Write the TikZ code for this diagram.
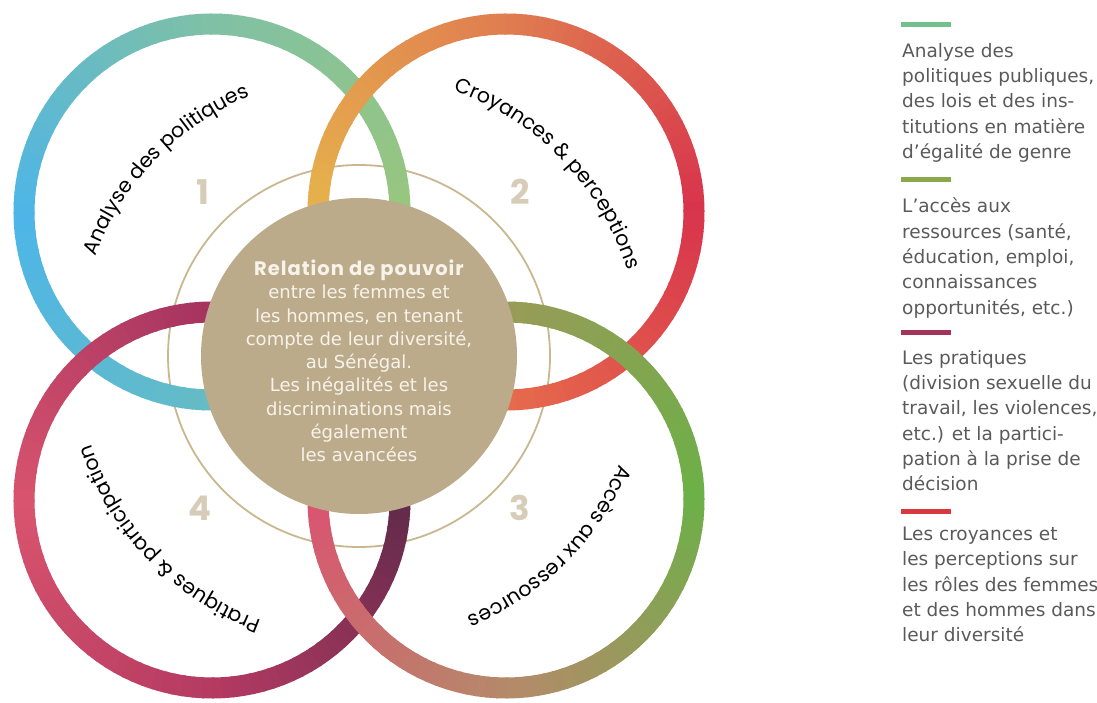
\documentclass[tikz,border=0pt]{standalone}
\usepackage{fontspec}
\setmainfont{DejaVu Sans}
\newfontfamily\popfont{Poppins}
\newfontfamily\titlefont[LetterSpace=5]{Poppins}
\definecolor{oneA}{HTML}{98C67E}\definecolor{oneB}{HTML}{7FC0A6}
\definecolor{oneC}{HTML}{4DB5E8}\definecolor{oneD}{HTML}{66BCC4}
\definecolor{twoA}{HTML}{D8344C}\definecolor{twoB}{HTML}{E07E50}
\definecolor{twoC}{HTML}{E6B44C}\definecolor{twoD}{HTML}{E66A4C}
\definecolor{thrA}{HTML}{6CB048}\definecolor{thrB}{HTML}{9A9A58}
\definecolor{thrC}{HTML}{DA5470}\definecolor{thrD}{HTML}{B58A6A}
\definecolor{fouA}{HTML}{5E2A4A}\definecolor{fouB}{HTML}{A53460}
\definecolor{fouC}{HTML}{D9546E}\definecolor{fouD}{HTML}{B43A62}
\definecolor{disc}{HTML}{BCAB8B}
\definecolor{ringline}{HTML}{C9B88F}
\definecolor{numtan}{HTML}{D6CCB8}
\definecolor{cream}{HTML}{F7F3EA}
\definecolor{legendgrey}{HTML}{5A5A5A}
\definecolor{barA}{HTML}{72C08C}\definecolor{barB}{HTML}{8AA84C}
\definecolor{barC}{HTML}{A23458}\definecolor{barD}{HTML}{D8383E}
\newcommand\lblfont{\popfont\fontsize{20.5}{22}\selectfont}
\newdimen\totw
\newdimen\chw
\newcommand\arclbl[3]{% mid angle, radius, letters
	\global\totw=0pt
	\foreach \ch in {#3}{\pgfinterruptpicture\setbox0=\hbox{\lblfont\ch}\global\advance\totw by\wd0\endpgfinterruptpicture}
	\pgfmathsetmacro\astart{#1+0.5*\totw/(#2)*180/pi}
	\xdef\acur{\astart}
	\foreach \ch in {#3}{%
		\pgfinterruptpicture\setbox0=\hbox{\lblfont\ch}\global\chw=\wd0\endpgfinterruptpicture
		\pgfmathsetmacro\amid{\acur-0.5*\chw/(#2)*180/pi}
		\path (c) ++(\amid:#2) node[rotate=\amid-90,anchor=base,inner sep=0pt,font=\lblfont] {\ch};
		\pgfmathsetmacro\anext{\acur-\chw/(#2)*180/pi}
		\xdef\acur{\anext}
	}}
\tikzset{
	legtext/.style={anchor=north west,inner sep=0pt,align=left,text=legendgrey,font=\fontsize{18.5}{25.3}\selectfont},
	legbar/.style={line width=5},
	numlbl/.style={text=numtan,font=\popfont\bfseries\fontsize{34}{34}\selectfont}
}
\begin{document}
\begin{tikzpicture}[x=1pt,y=1pt,line cap=butt]
			\useasboundingbox (0,0) rectangle (1097,702);
			\def\rr{188}
			\def\lr{282}
			\def\ring#1#2#3#4#5{%
				\foreach \q/\ca/\cb in {0/#2/#3,90/#3/#4,180/#4/#5,270/#5/#2}{%
					\foreach \s in {0,...,29}{%
						\pgfmathsetmacro\pct{\s*10/3}%
						\pgfmathsetmacro\ang{\q+\s*3}%
						\colorlet{segc}{\cb!\pct!\ca}%
						\draw[segc,line width=21] (#1) ++(\ang:\rr) arc[start angle=\ang,delta angle=3.6,radius=\rr];
					}}}
			\coordinate (c) at (359,346);
			\coordinate (c1) at (212,490);
			\coordinate (c2) at (506,490);
			\coordinate (c3) at (506,202);
			\coordinate (c4) at (212,202);
			\draw[ringline,line width=1.8] (c) circle[radius=191];
			\ring{c1}{oneA}{oneB}{oneC}{oneD}
			\ring{c2}{twoA}{twoB}{twoC}{twoD}
			\ring{c4}{fouA}{fouB}{fouC}{fouD}
			\ring{c3}{thrA}{thrB}{thrC}{thrD}
			\fill[disc] (c) circle[radius=158];
			\node[text=cream,align=center,font=\fontsize{18}{23.3}\selectfont] (centre) at (359,341)
				{{\titlefont\bfseries\fontsize{19.5}{23.3}\selectfont Relation de pouvoir}\\
				entre les femmes et\\ les hommes, en tenant\\ compte de leur diversité,\\ au Sénégal.\\
				Les inégalités et les\\ discriminations mais\\ également\\ les avancées};
			\node[numlbl] (n1) at (203,510) {1};
			\node[numlbl] (n2) at (520,510) {2};
			\node[numlbl] (n3) at (520,194) {3};
			\node[numlbl] (n4) at (200,194) {4};
			\arclbl{136}{\lr}{A,n,a,l,y,s,e,~,d,e,s,~,p,o,l,i,t,i,q,u,e,s}
			\arclbl{44}{\lr}{C,r,o,y,a,n,c,e,s,~,\&,~,p,e,r,c,e,p,t,i,o,n,s}
			\arclbl{-45}{\lr}{A,c,c,è,s,~,a,u,x,~,r,e,s,s,o,u,r,c,e,s}
			\arclbl{-136}{\lr}{P,r,a,t,i,q,u,e,s,~,\&,~,p,a,r,t,i,c,i,p,a,t,i,o,n}
			\draw[legbar,barA] (901,677) -- (951,677);
			\draw[legbar,barB] (901,522) -- (951,522);
			\draw[legbar,barC] (901,369) -- (951,369);
			\draw[legbar,barD] (901,191) -- (951,191);
			\node[legtext] (leg1) at (902,659) {Analyse des\\ politiques publiques,\\ des lois et des ins-\\ titutions en matière\\ d’égalité de genre};
			\node[legtext] (leg2) at (902,504) {L’accès aux\\ ressources (santé,\\ éducation, emploi,\\ connaissances\\ opportunités, etc.)};
			\node[legtext] (leg3) at (902,352) {Les pratiques\\ (division sexuelle du\\ travail, les violences,\\ etc.) et la partici-\\ pation à la prise de\\ décision};
			\node[legtext] (leg4) at (902,175) {Les croyances et\\ les perceptions sur\\ les rôles des femmes\\ et des hommes dans\\ leur diversité};
		\end{tikzpicture}
\end{document}
